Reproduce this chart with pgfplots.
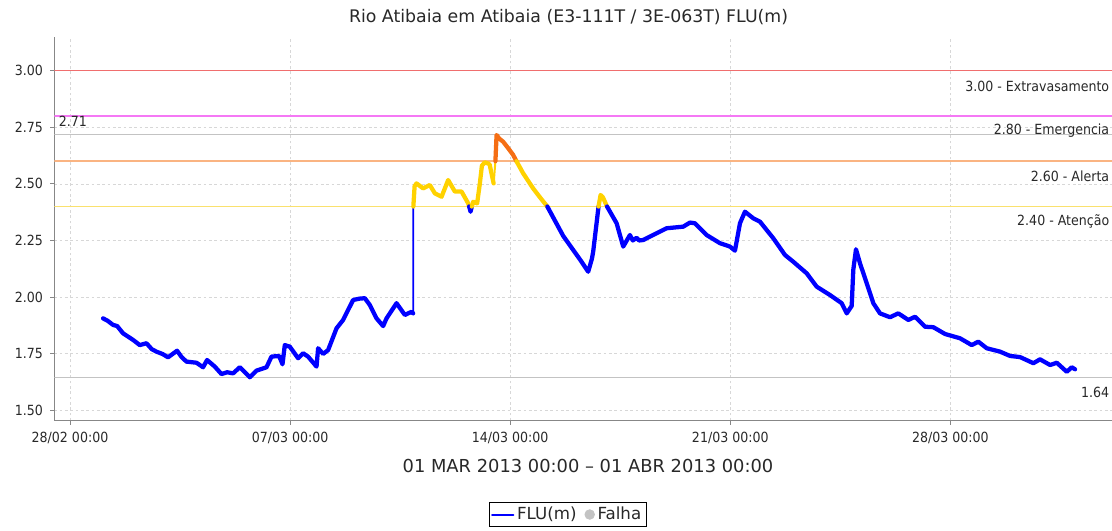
\documentclass[border=0pt]{standalone}
\usepackage{pgfplots}
\pgfplotsset{compat=1.18}
\usepackage{fontspec}
\setmainfont{DejaVu Sans}
\newfontfamily\cond{DejaVu Sans Condensed}
\definecolor{flublue}{RGB}{0,0,255}
\definecolor{fluyellow}{RGB}{255,210,0}
\definecolor{fluorange}{RGB}{245,110,20}
\definecolor{lred}{RGB}{240,110,110}
\definecolor{lmag}{RGB}{245,120,245}
\definecolor{lorange}{RGB}{250,180,130}
\definecolor{lyellow}{RGB}{250,225,110}
\definecolor{lgray}{RGB}{195,195,195}
\definecolor{gridgray}{RGB}{215,215,215}
\definecolor{axgray}{RGB}{135,135,135}
\definecolor{txt}{RGB}{40,40,40}
\begin{document}
\begin{tikzpicture}[x=1pt,y=1pt]
\begin{axis}[
  at={(40.725pt,82.725pt)}, anchor=south west,
  scale only axis, width=801.5pt, height=288pt,
  xmin=-0.5, xmax=33.49, ymin=1.454, ymax=3.15,
  axis lines*=left,
  axis line style={axgray, line width=0.9pt, -},
  tick align=outside, major tick length=3pt,
  tick style={axgray, line width=0.6pt},
  grid=major,
  major grid style={gridgray, line width=0.5pt, dash pattern=on 2pt off 2pt},
  xtick={0,7,14,21,28},
  xticklabels={28/02 00:00,07/03 00:00,14/03 00:00,21/03 00:00,28/03 00:00},
  ytick={1.5,1.75,2,2.25,2.5,2.75,3},
  xticklabel style={font=\cond\fontsize{10.5}{12}\selectfont, text=txt, yshift=-2pt},
  yticklabel style={font=\cond\fontsize{10.5}{12}\selectfont, text=txt, xshift=-2pt,
    /pgf/number format/fixed, /pgf/number format/fixed zerofill,
    /pgf/number format/precision=2, /pgf/number format/assume math mode=true},
  legend style={at={(0.4802,-0.2443)}, anchor=center, draw=black, line width=0.6pt,
    font=\fontsize{12.5}{14}\selectfont, text=txt, inner sep=1.5pt, legend columns=2,
    /tikz/every even column/.append style={column sep=4pt}},
  legend cell align=left,
]
% reference levels
\draw[lred, line width=1.1pt] (axis cs:-0.5,3.00) -- (axis cs:33.49,3.00);
\draw[lmag, line width=1.1pt] (axis cs:-0.5,2.80) -- (axis cs:33.49,2.80);
\draw[lgray, line width=1.1pt] (axis cs:-0.5,2.717) -- (axis cs:33.49,2.717);
\draw[lorange, line width=1.1pt] (axis cs:-0.5,2.60) -- (axis cs:33.49,2.60);
\draw[lyellow, line width=1.1pt] (axis cs:-0.5,2.40) -- (axis cs:33.49,2.40);
\draw[lgray, line width=1.1pt] (axis cs:-0.5,1.645) -- (axis cs:33.49,1.645);

\addlegendimage{legend image code/.code={\draw[flublue, line width=1.5pt] (0pt,0pt) -- (16pt,0pt);}}
\addlegendentry{FLU(m)}
\addlegendimage{legend image code/.code={\fill[lgray] (3.6pt,0pt) circle (3.6pt);}}
\addlegendentry{Falha}

\pgfplotsset{every axis plot/.append style={line join=round, line cap=round, forget plot}}
% blue 1
\addplot[flublue, line width=3.2pt] coordinates {
(1.050,1.906) (1.200,1.895) (1.368,1.877) (1.500,1.872) (1.686,1.840) (1.850,1.825) (2.004,1.811) (2.218,1.788) (2.431,1.796)
(2.600,1.770) (2.749,1.759) (2.950,1.748) (3.118,1.734) (3.404,1.763) (3.550,1.735) (3.703,1.715) (4.022,1.710) (4.232,1.690)
(4.359,1.722) (4.604,1.693) (4.817,1.660) (5.000,1.668) (5.186,1.663) (5.399,1.690) (5.550,1.670) (5.717,1.646)
(5.931,1.675) (6.249,1.690) (6.408,1.737) (6.650,1.740) (6.758,1.703) (6.831,1.788)
(6.990,1.781) (7.254,1.730) (7.413,1.752) (7.572,1.737) (7.840,1.693) (7.891,1.774)
(8.050,1.749) (8.209,1.766) (8.476,1.862) (8.686,1.899) (9.004,1.987) (9.200,1.993) (9.376,1.995)
(9.536,1.965) (9.749,1.906) (9.959,1.872) (10.067,1.906) (10.385,1.973) (10.649,1.921)
(10.862,1.935) (10.913,1.928)};
\addplot[flublue, line width=1.3pt] coordinates {(10.913,1.928) (10.920,2.400)};
% yellow 1
\addplot[fluyellow, line width=3.2pt] coordinates {
(10.920,2.400) (10.960,2.490) (11.021,2.502) (11.231,2.480) (11.444,2.495) (11.604,2.458)
(11.817,2.443) (12.027,2.517) (12.240,2.466) (12.453,2.466) (12.663,2.414) (12.695,2.400)};
% blue 2
\addplot[flublue, line width=3.2pt] coordinates {(12.695,2.400) (12.739,2.377) (12.780,2.400)};
% yellow 2
\addplot[fluyellow, line width=3.2pt] coordinates {
(12.780,2.400) (12.822,2.421) (12.949,2.414) (13.035,2.502) (13.100,2.580) (13.188,2.595)
(13.300,2.590) (13.347,2.585) (13.400,2.550) (13.474,2.502)};
\addplot[fluyellow, line width=1.5pt] coordinates {(13.474,2.502) (13.530,2.600)};
% orange
\addplot[fluorange, line width=3.2pt] coordinates {
(13.530,2.600) (13.567,2.716) (13.650,2.700) (13.777,2.686) (13.950,2.655) (14.093,2.628)
(14.200,2.600)};
% yellow 3
\addplot[fluyellow, line width=3.2pt] coordinates {
(14.200,2.600) (14.411,2.547) (14.729,2.480) (14.950,2.440) (15.180,2.400)};
% blue 3
\addplot[flublue, line width=3.2pt] coordinates {
(15.180,2.400) (15.686,2.270) (16.004,2.208) (16.250,2.160) (16.481,2.112) (16.600,2.170)
(16.640,2.201) (16.810,2.400)};
% yellow 4
\addplot[fluyellow, line width=3.2pt] coordinates {
(16.810,2.400) (16.875,2.451) (16.950,2.440) (17.080,2.400)};
% blue 4
\addplot[flublue, line width=3.2pt] coordinates {
(17.080,2.400) (17.385,2.326) (17.595,2.223) (17.808,2.274) (17.900,2.250) (18.021,2.262)
(18.100,2.250) (18.231,2.252) (18.657,2.282) (18.976,2.304) (19.504,2.311) (19.717,2.329)
(19.876,2.326) (20.248,2.274) (20.671,2.238) (20.990,2.223) (21.149,2.205) (21.308,2.326)
(21.467,2.377) (21.731,2.348) (21.944,2.333) (22.367,2.260) (22.739,2.186) (23.004,2.156)
(23.430,2.105) (23.748,2.046) (24.171,2.009) (24.543,1.973) (24.703,1.928) (24.862,1.961)
(24.912,2.120) (24.998,2.211) (25.126,2.149) (25.339,2.061) (25.549,1.973) (25.762,1.928)
(26.080,1.911) (26.344,1.928) (26.662,1.899) (26.876,1.913) (27.194,1.869) (27.458,1.867)
(27.830,1.837) (28.307,1.818) (28.679,1.788) (28.889,1.803) (29.157,1.774) (29.580,1.759)
(29.898,1.740) (30.216,1.735) (30.640,1.708) (30.852,1.725) (31.171,1.700) (31.384,1.710)
(31.702,1.670) (31.861,1.690) (31.966,1.681)};

% level labels
\begin{scope}[every node/.style={font=\cond\fontsize{10.5}{12}\selectfont, text=txt, inner sep=0pt, anchor=east}]
\node at (axis cs:33.06,2.932) {3.00 - Extravasamento};
\node at (axis cs:33.06,2.733) {2.80 - Emergencia};
\node at (axis cs:33.06,2.534) {2.60 - Alerta};
\node at (axis cs:33.06,2.336) {2.40 - Atenção};
\node at (axis cs:33.06,1.580) {1.64};
\node[anchor=west] at (axis cs:-0.36,2.778) {2.71};
\end{scope}
\end{axis}
\node[font=\fontsize{13}{15}\selectfont, text=txt] at (426.4,385.5) {Rio Atibaia em Atibaia (E3-111T / 3E-063T) FLU(m)};
\node[font=\fontsize{13.4}{15}\selectfont, text=txt] at (441,48.75) {01 MAR 2013 00:00 – 01 ABR 2013 00:00};
\pgfresetboundingbox
\path[use as bounding box] (0,0) rectangle (834,398.25);
\end{tikzpicture}
\end{document}
